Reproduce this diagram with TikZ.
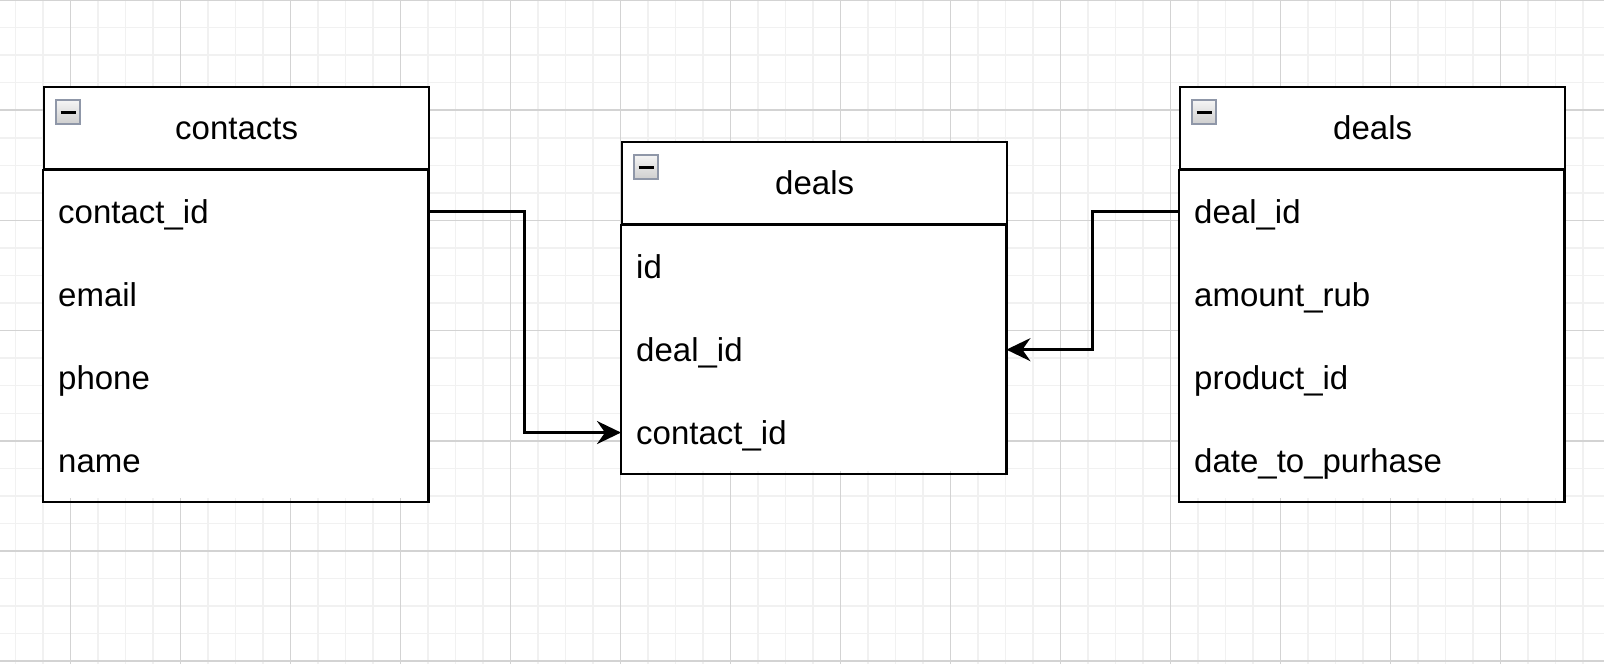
\documentclass[tikz,border=0pt]{standalone}
\usepackage{fontspec}
\setmainfont{Liberation Sans}
\usetikzlibrary{arrows.meta,calc,positioning}
\definecolor{gridminor}{HTML}{F1F1F1}
\definecolor{gridmajor}{HTML}{D3D3D3}
\definecolor{iconborder}{HTML}{8F97A8}
\tikzset{
  tabhead/.style={draw=black, line width=2.3pt, fill=white, rectangle,
    minimum width=385pt, minimum height=82pt, inner sep=0pt,
    font=\fontsize{33pt}{40pt}\selectfont, text height=23.6pt, text depth=0pt},
  tabrow/.style={rectangle, minimum width=385pt, minimum height=82.5pt,
    text width=355pt, inner xsep=15pt, inner ysep=0pt, align=left,
    font=\fontsize{33pt}{40pt}\selectfont, text height=23.6pt, text depth=0pt},
  tabframe/.style={draw=black, line width=2.3pt},
  icon/.style={rectangle, draw=iconborder, line width=2pt, minimum size=24pt,
    inner sep=0pt, top color=gray!8, bottom color=gray!38,
    path picture={\draw[line width=3pt,black]
      ([xshift=-7.5pt]path picture bounding box.center) --
      ([xshift=7.5pt]path picture bounding box.center);}},
  conn/.style={draw=black, line width=2.8pt,
    -{Stealth[length=24pt, width=23pt, inset=8pt]}}
}
\begin{document}
\begin{tikzpicture}[x=1pt,y=-1pt]
\useasboundingbox (0,0) rectangle (1604,664);
\fill[white] (0,0) rectangle (1604,664);
\begin{scope}
\clip (0,0) rectangle (1604,664);
% minor grid
\foreach \i in {0,...,58} \draw[gridminor, line width=1.5pt] ({15.7+27.5*\i},0) -- ({15.7+27.5*\i},664);
\foreach \j in {0,...,24} \draw[gridminor, line width=1.5pt] (0,{27.55*\j}) -- (1604,{27.55*\j});
% major grid
\foreach \i in {0,...,13} \draw[gridmajor, line width=1.5pt] ({70.7+110*\i},0) -- ({70.7+110*\i},664);
\foreach \j in {0,...,6} \draw[gridmajor, line width=1.5pt] (0,{110.2*\j}) -- (1604,{110.2*\j});
\end{scope}

% ---- contacts table
\fill[white] (43,86) rectangle (428,498);
\node[tabhead, anchor=north west] (ch) at (43,86) {contacts};
\node[tabrow, anchor=north west] (c1) at (ch.south west) {contact\_id};
\node[tabrow, anchor=north] (c2) at (c1.south) {email};
\node[tabrow, anchor=north] (c3) at (c2.south) {phone};
\node[tabrow, anchor=north] (c4) at (c3.south) {name};
\draw[tabframe] (ch.south west) rectangle (c4.south east);
\node[icon, anchor=north west] (ci) at ([xshift=12pt,yshift=-13pt]ch.north west) {};

% ---- middle deals table
\fill[white] (621,141) rectangle (1006,470.5);
\node[tabhead, anchor=north west] (mh) at (621,141) {deals};
\node[tabrow, anchor=north west] (m1) at (mh.south west) {id};
\node[tabrow, anchor=north] (m2) at (m1.south) {deal\_id};
\node[tabrow, anchor=north] (m3) at (m2.south) {contact\_id};
\draw[tabframe] (mh.south west) rectangle (m3.south east);
\node[icon, anchor=north west] (mi) at ([xshift=12pt,yshift=-13pt]mh.north west) {};

% ---- right deals table
\fill[white] (1179,86) rectangle (1564,498);
\node[tabhead, anchor=north west] (rh) at (1179,86) {deals};
\node[tabrow, anchor=north west] (r1) at (rh.south west) {deal\_id};
\node[tabrow, anchor=north] (r2) at (r1.south) {amount\_rub};
\node[tabrow, anchor=north] (r3) at (r2.south) {product\_id};
\node[tabrow, anchor=north] (r4) at (r3.south) {date\_to\_purhase};
\draw[tabframe] (rh.south west) rectangle (r4.south east);
\node[icon, anchor=north west] (ri) at ([xshift=12pt,yshift=-13pt]rh.north west) {};

% ---- connectors
\draw[conn] (c1.east) -| ($(c1.east)!0.5!(m3.west)$) |- (m3.west);
\draw[conn] (r1.west) -| ($(r1.west)!0.5!(m2.east)$) |- (m2.east);
\end{tikzpicture}
\end{document}
